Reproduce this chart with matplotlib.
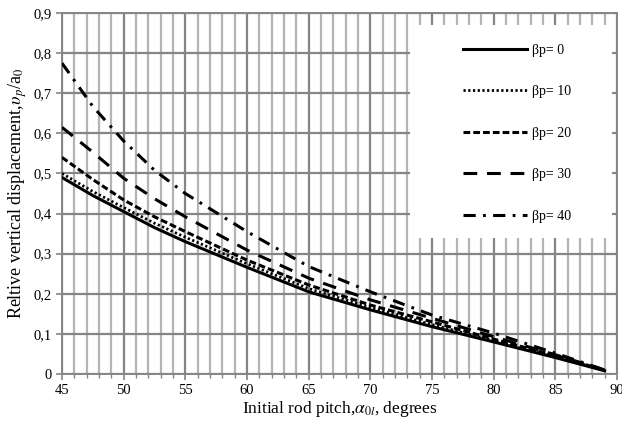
import matplotlib
matplotlib.use("Agg")
import matplotlib.pyplot as plt
from matplotlib.patches import Rectangle
from matplotlib.ticker import MultipleLocator

plt.rcParams['font.family'] = ['Liberation Serif', 'DejaVu Serif']
plt.rcParams['mathtext.fontset'] = 'stix'

# pitch angle, degrees
alpha = [45, 47.5, 50, 52.5, 55, 60, 65, 70, 75, 80, 85, 89]

# relative vertical displacement for each beta_p
beta0 = [0.490, 0.445, 0.405, 0.365, 0.330, 0.266, 0.205, 0.160, 0.118, 0.080, 0.041, 0.008]
beta10 = [0.500, 0.455, 0.415, 0.376, 0.341, 0.275, 0.213, 0.166, 0.123, 0.083, 0.044, 0.009]
beta20 = [0.540, 0.485, 0.434, 0.392, 0.355, 0.284, 0.222, 0.172, 0.130, 0.087, 0.046, 0.009]
beta30 = [0.615, 0.553, 0.488, 0.437, 0.392, 0.309, 0.239, 0.185, 0.139, 0.093, 0.048, 0.010]
beta40 = [0.775, 0.667, 0.581, 0.508, 0.450, 0.355, 0.268, 0.205, 0.147, 0.102, 0.052, 0.010]

labels = ['βp= 0', 'βp= 10', 'βp= 20', 'βp= 30', 'βp= 40']
xticks = [45, 50, 55, 60, 65, 70, 75, 80, 85, 90]
yticks = [0, 0.1, 0.2, 0.3, 0.4, 0.5, 0.6, 0.7, 0.8, 0.9]
ytick_labels = ['0', '0,1', '0,2', '0,3', '0,4', '0,5', '0,6', '0,7', '0,8', '0,9']

fig = plt.figure(figsize=(6.22, 4.23), dpi=100)
ax = fig.add_axes([0.0997, 0.1158, 0.8923, 0.8534])

styles = [
    dict(lw=2.2, linestyle='-'),
    dict(lw=2.0, linestyle=(0, (0.8, 0.9))),
    dict(lw=2.2, linestyle=(0, (2.2, 1.0))),
    dict(lw=2.2, linestyle=(0, (4.5, 3.2))),
    dict(lw=2.2, linestyle=(0, (4.0, 2.4, 0.9, 2.4))),
]
series = [beta0, beta10, beta20, beta30, beta40]
for vals, lab, st in zip(series, labels, styles):
    ax.plot(alpha, vals, color='black', label=lab, zorder=3, **st)

ax.set_xlim(45, 90)
ax.set_ylim(0, 0.9)
ax.set_xticks(xticks)
ax.xaxis.set_minor_locator(MultipleLocator(1))
ax.set_yticks(yticks)
ax.set_yticklabels(ytick_labels)

ax.set_axisbelow(True)
ax.grid(which='minor', axis='x', color='#b4b4b4', lw=1.6)
ax.grid(which='major', axis='x', color='#858585', lw=1.6)
ax.grid(which='major', axis='y', color='#858585', lw=1.6)

for s in ax.spines.values():
    s.set_color('#858585')
    s.set_linewidth(1.4)
ax.tick_params(which='major', length=4, width=1.2, color='#858585', labelsize=10.5)
ax.tick_params(which='minor', axis='x', length=3, width=1.0, color='#858585')

# white box behind the legend
ax.add_patch(Rectangle((0.627, 0.377), 0.364, 0.59, transform=ax.transAxes,
                       facecolor='white', edgecolor='none', zorder=2))

ax.legend(loc='upper left', bbox_to_anchor=(0.7225, 0.915), frameon=False,
          borderpad=0, borderaxespad=0, handlelength=4.6, handletextpad=0.4,
          labelspacing=2.05, fontsize=10)

ax.set_xlabel(r'Initial rod pitch,$\alpha_{0l}$, degrees', fontsize=12.5, labelpad=1)
ax.set_ylabel(r'Reltive vertical displacement,$\upsilon_p$/a$_0$', fontsize=13, labelpad=3)

fig.savefig('out.png', dpi=100)
